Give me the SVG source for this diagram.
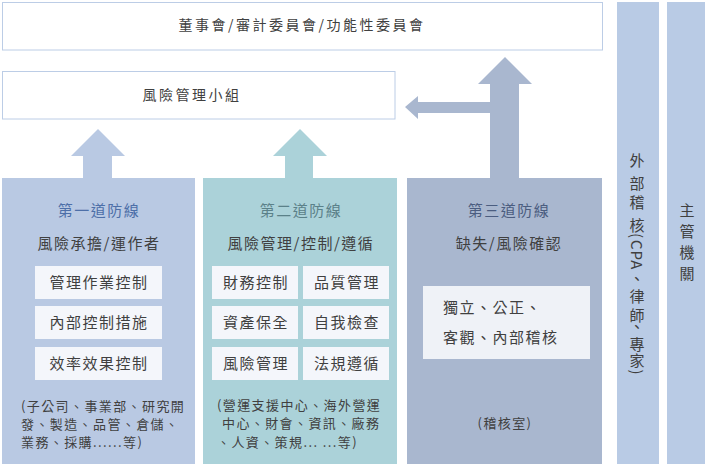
<svg xmlns="http://www.w3.org/2000/svg" width="707" height="466" viewBox="0 0 707 466">
<style>
text{font-family:"Noto Sans CJK TC","Noto Sans CJK SC",sans-serif;fill:#404040}
.t{font-size:14px;letter-spacing:2.5px}
.h{font-size:15px;letter-spacing:1.5px}
.s{font-size:15px;letter-spacing:1.5px}
.b{font-size:15px;letter-spacing:1.5px}
.n{font-size:13px;letter-spacing:1.4px}
.v{font-size:15px;writing-mode:vertical-rl}
.vs{letter-spacing:6px}
.ib{fill:#f4f6fb}
</style>
<rect width="707" height="466" fill="#ffffff"/>
<g id="connectors">
<polygon points="83,178 83,156 71,156 98,129 125,156 112,156 112,178" fill="#b9c9e3"/>
<polygon points="285,178 285,156 273,156 300,129 327,156 313,156 313,178" fill="#abd2d9"/>
<polygon points="490,178 490,113 418,113 418,119 405,107 418,96 418,102 490,102 490,84 478,84 505,57 532,84 519,84 519,178" fill="#a9b7cf"/>
</g>
<g id="board">
<rect x="2.5" y="2.5" width="600" height="47.5" fill="#ffffff" stroke="#bccde6" stroke-width="1"/>
<text class="t" x="302" y="30" text-anchor="middle">董事會/審計委員會/功能性委員會</text>
</g>
<g id="risk-team">
<rect x="2.5" y="71.5" width="392.5" height="47.5" fill="#ffffff" stroke="#bccde6" stroke-width="1"/>
<text class="t" x="192" y="100" text-anchor="middle">風險管理小組</text>
</g>
<g id="line1">
<rect x="2" y="178" width="193" height="286" fill="#b9c9e3"/>
<text class="h" x="99" y="216" text-anchor="middle" style="fill:#4d6fa8">第一道防線</text>
<text class="s" x="99" y="249" text-anchor="middle">風險承擔/運作者</text>
<rect class="ib" x="35" y="266" width="127" height="33"/>
<rect class="ib" x="35" y="306" width="127" height="33"/>
<rect class="ib" x="35" y="347" width="127" height="33"/>
<text class="b" x="99" y="288" text-anchor="middle">管理作業控制</text>
<text class="b" x="99" y="328" text-anchor="middle">內部控制措施</text>
<text class="b" x="99" y="369" text-anchor="middle">效率效果控制</text>
<text class="n" x="21" y="411">(子公司、事業部、研究開</text>
<text class="n" x="21" y="429">發、製造、品管、倉儲、</text>
<text class="n" x="21" y="447">業務、採購......等)</text>
</g>
<g id="line2">
<rect x="203" y="178" width="194" height="286" fill="#abd2d9"/>
<text class="h" x="301" y="216" text-anchor="middle" style="fill:#5b8189">第二道防線</text>
<text class="s" x="301" y="249" text-anchor="middle">風險管理/控制/遵循</text>
<rect class="ib" x="212" y="266" width="86" height="33"/>
<rect class="ib" x="303" y="266" width="86" height="33"/>
<rect class="ib" x="212" y="306" width="86" height="33"/>
<rect class="ib" x="303" y="306" width="86" height="33"/>
<rect class="ib" x="212" y="347" width="86" height="33"/>
<rect class="ib" x="303" y="347" width="86" height="33"/>
<text class="b" x="256" y="288" text-anchor="middle">財務控制</text>
<text class="b" x="347" y="288" text-anchor="middle">品質管理</text>
<text class="b" x="256" y="328" text-anchor="middle">資產保全</text>
<text class="b" x="347" y="328" text-anchor="middle">自我檢查</text>
<text class="b" x="256" y="369" text-anchor="middle">風險管理</text>
<text class="b" x="347" y="369" text-anchor="middle">法規遵循</text>
<text class="n" x="217" y="410">(營運支援中心、海外營運</text>
<text class="n" x="222" y="428">中心、財會、資訊、廠務</text>
<text class="n" x="217" y="447">、人資、策規... ...等)</text>
</g>
<g id="line3">
<rect x="407" y="178" width="195" height="286" fill="#a9b7cf"/>
<text class="h" x="509" y="216" text-anchor="middle" style="fill:#4b5d80">第三道防線</text>
<text class="s" x="509" y="249" text-anchor="middle">缺失/風險確認</text>
<rect x="423" y="286" width="167" height="73" fill="#eff2f7"/>
<text class="b" x="443" y="313">獨立、公正、</text>
<text class="b" x="443" y="343">客觀、內部稽核</text>
<text class="n" x="505" y="428" text-anchor="middle">(稽核室)</text>
</g>
<g id="external-audit">
<rect x="617" y="2" width="42" height="462" fill="#b9cbe5"/>
<text class="v" x="637" y="153"><tspan y="153">外</tspan><tspan y="176">部</tspan><tspan y="195">稽</tspan><tspan y="218">核</tspan><tspan y="233">(</tspan><tspan y="240" style="letter-spacing:1px">CPA</tspan><tspan y="271">、</tspan><tspan y="289">律</tspan><tspan y="308">師</tspan><tspan y="319">、</tspan><tspan y="337">專</tspan><tspan y="353">家</tspan><tspan y="370">)</tspan></text>
</g>
<g id="authority">
<rect x="667" y="2" width="38" height="462" fill="#b9cbe5"/>
<text class="v vs" x="687" y="203">主管機關</text>
</g>
</svg>
